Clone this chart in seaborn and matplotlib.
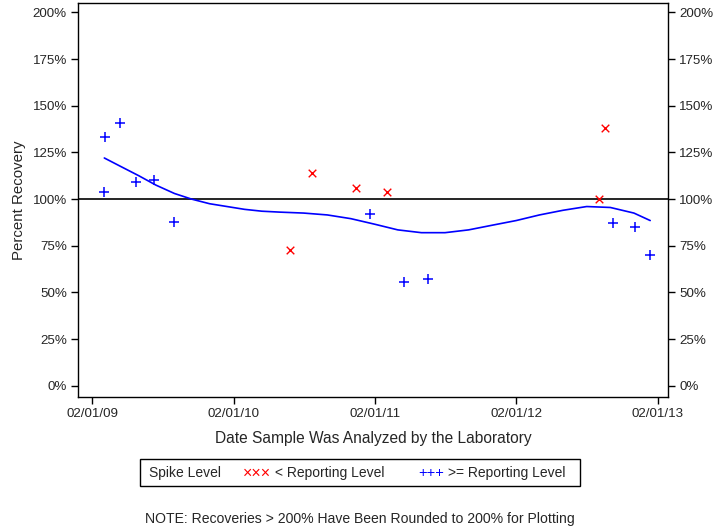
import numpy as np
import pandas as pd
import matplotlib
matplotlib.use('Agg')
import matplotlib.pyplot as plt
import matplotlib.dates as mdates
import matplotlib.ticker as mtick
from matplotlib.patches import Rectangle
import seaborn as sns

# spike recoveries >= reporting level (blue +)
ge_dates = ['2009-03-04', '2009-03-06', '2009-04-14', '2009-05-25', '2009-07-10',
            '2009-08-31', '2011-01-18', '2011-04-18', '2011-06-19', '2012-10-08',
            '2012-12-04', '2013-01-12']
ge_values = [104, 133, 141, 109, 110, 87.5, 92, 55.5, 57, 87, 85, 70]

# spike recoveries < reporting level (red x)
lt_dates = ['2010-06-27', '2010-08-22', '2010-12-14', '2011-03-03', '2012-09-01',
            '2012-09-16']
lt_values = [72.5, 114, 106, 104, 100, 138]

# smoothed trend line
trend_dates = ['2009-03-04', '2009-04-15', '2009-06-01', '2009-07-15', '2009-09-01',
               '2009-10-15', '2009-12-01', '2010-01-15', '2010-03-01', '2010-04-15',
               '2010-06-01', '2010-08-01', '2010-10-01', '2010-12-01', '2011-02-01',
               '2011-04-01', '2011-06-01', '2011-08-01', '2011-10-01', '2011-12-01',
               '2012-02-01', '2012-04-01', '2012-06-01', '2012-08-01', '2012-10-01',
               '2012-12-01', '2013-01-12']
trend_values = [122, 117.5, 112.5, 107.5, 103, 100, 97.5, 96, 94.5, 93.5,
                93, 92.5, 91.5, 89.5, 86.5, 83.5, 82, 82, 83.5, 86,
                88.5, 91.5, 94, 96, 95.5, 92.5, 88.5]

ge = pd.DataFrame({'date': pd.to_datetime(ge_dates), 'pct': ge_values})
lt = pd.DataFrame({'date': pd.to_datetime(lt_dates), 'pct': lt_values})
trend = pd.DataFrame({'date': pd.to_datetime(trend_dates), 'pct': trend_values})

sns.set_style('ticks')
plt.rcParams['font.family'] = ['Liberation Sans', 'DejaVu Sans']

fig = plt.figure(figsize=(7.2, 5.28), dpi=100)
ax = fig.add_axes([78/720, 131/528, 590/720, 394/528])

ax.axhline(100, color='black', lw=1.2, zorder=1)
sns.lineplot(data=trend, x='date', y='pct', ax=ax, color='blue', lw=1.2, zorder=2)
sns.scatterplot(data=ge, x='date', y='pct', ax=ax, marker='+', color='blue',
                s=45, linewidth=1.1, zorder=3)
sns.scatterplot(data=lt, x='date', y='pct', ax=ax, marker='x', color='red',
                s=30, linewidth=1.0, zorder=3)

ax.set_xlim(pd.Timestamp('2008-12-26'), pd.Timestamp('2013-02-27'))
ax.set_ylim(-6, 205)
ax.set_yticks(np.arange(0, 201, 25))
ax.yaxis.set_major_formatter(mtick.FuncFormatter(lambda v, p: f'{int(v)}%'))
xt = pd.to_datetime(['2009-02-01', '2010-02-01', '2011-02-01', '2012-02-01', '2013-02-01'])
ax.set_xticks(xt)
ax.xaxis.set_major_formatter(mdates.DateFormatter('%m/%d/%y'))
ax.tick_params(axis='both', labelsize=9.6, length=5, width=1, direction='out', color='black',
               pad=3)
ax.tick_params(axis='y', right=True, labelright=True)
for s in ax.spines.values():
    s.set_color('black')
    s.set_linewidth(1)

ax.set_xlabel('Date Sample Was Analyzed by the Laboratory', fontsize=11.2, labelpad=8)
ax.set_ylabel('Percent Recovery', fontsize=10.8, labelpad=5)

# legend box
fig.patches.append(Rectangle((140/720, 1 - 486/528), 440/720, 27/528,
                             transform=fig.transFigure, fill=False,
                             edgecolor='black', lw=1))
ly = 1 - 473/528
fig.text(149/720, ly, 'Spike Level', fontsize=10, va='center')
fig.text(243/720, ly, '×××', fontsize=11.5, va='center', color='red')
fig.text(275/720, ly, '< Reporting Level', fontsize=10, va='center')
fig.text(418/720, ly, '+++', fontsize=10.5, va='center', color='blue')
fig.text(448/720, ly, '>= Reporting Level', fontsize=10, va='center')

fig.text(0.5, 1 - 519/528, 'NOTE: Recoveries > 200% Have Been Rounded to 200% for Plotting',
         fontsize=10.1, ha='center', va='center')

fig.savefig('out.png', dpi=100)
